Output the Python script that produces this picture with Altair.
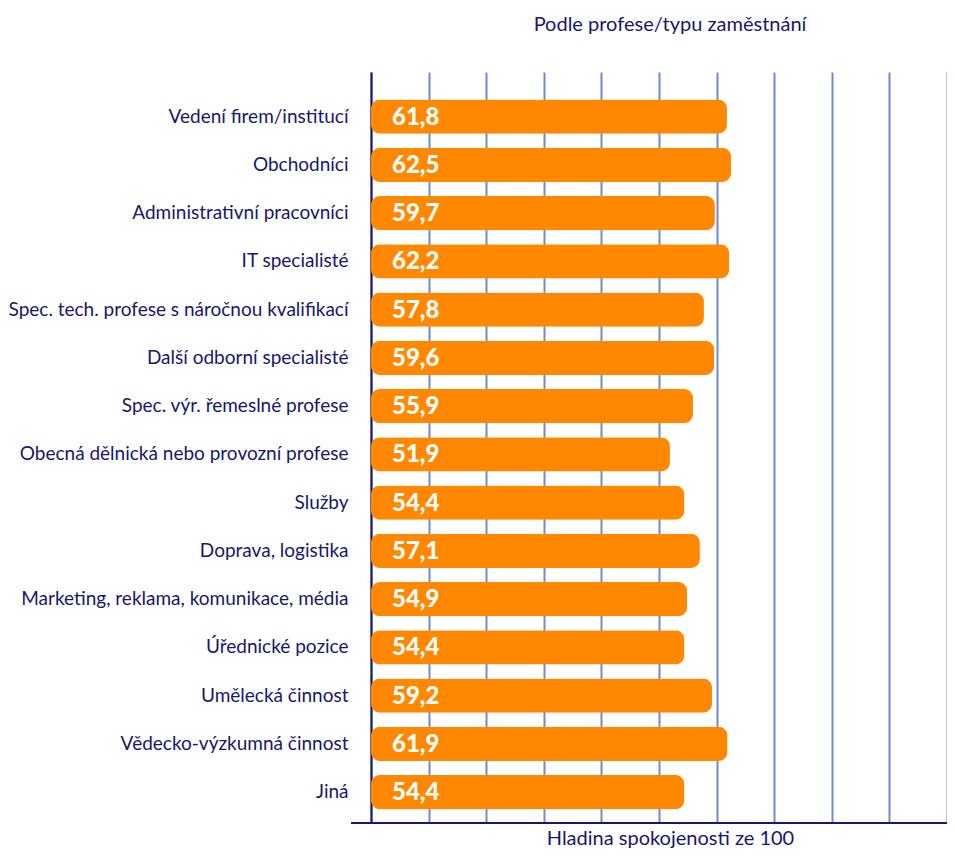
import altair as alt
import pandas as pd

categories = [
    "Vedení firem/institucí",
    "Obchodníci",
    "Administrativní pracovníci",
    "IT specialisté",
    "Spec. tech. profese s náročnou kvalifikací",
    "Další odborní specialisté",
    "Spec. výr. řemeslné profese",
    "Obecná dělnická nebo provozní profese",
    "Služby",
    "Doprava, logistika",
    "Marketing, reklama, komunikace, média",
    "Úřednické pozice",
    "Umělecká činnost",
    "Vědecko-výzkumná činnost",
    "Jiná",
]
values = [61.8, 62.5, 59.7, 62.2, 57.8, 59.6, 55.9, 51.9, 54.4, 57.1, 54.9, 54.4, 59.2, 61.9, 54.4]

NAVY = "#17176b"
ORANGE = "#FF8800"
GRID = "#6d8ccf"
FONT = "Lato"

df = pd.DataFrame({"cat": categories, "value": values})

y_enc = alt.Y(
    "cat:N",
    sort=categories,
    title=None,
    scale=alt.Scale(paddingInner=0.29, paddingOuter=0.427, align=0.667),
    axis=alt.Axis(
        domain=True, domainColor=NAVY, domainWidth=2, ticks=False,
        labelFont=FONT, labelFontSize=19, labelColor=NAVY, labelPadding=23,
        labelLimit=400, grid=False,
    ),
)

x_enc = alt.X(
    "value:Q",
    scale=alt.Scale(domain=[0, 100]),
    title="Hladina spokojenosti ze 100",
    axis=alt.Axis(
        values=[0, 10, 20, 30, 40, 50, 60, 70, 80, 90, 100],
        labels=False, ticks=False, domain=False,
        grid=True, gridColor=GRID, gridWidth=2, gridOpacity=1,
        titleFont=FONT, titleFontSize=20, titleFontWeight="normal",
        titleColor=NAVY, titlePadding=5, titleX=299,
    ),
)

base = alt.Chart(df)

bars = base.mark_bar(cornerRadius=9, color=ORANGE).encode(y=y_enc, x=x_enc)

labels = base.transform_calculate(
    label="replace(format(datum.value, '.1f'), '.', ',')"
).mark_text(
    align="left", baseline="middle", dx=21, dy=1, color="white",
    font=FONT, fontSize=24, fontWeight=900,
).encode(y=alt.Y("cat:N", sort=categories), x=alt.datum(0), text="label:N")

bottom_rule = alt.Chart(pd.DataFrame({"a": [0]})).mark_rule(
    color=NAVY, strokeWidth=2
).encode(x=alt.value(-20), x2=alt.value(590), y=alt.value(751))

chart = alt.layer(bars, labels, bottom_rule).properties(
    width=576,
    height=751,
    autosize=alt.AutoSizeParams(type="none"),
    padding={"left": 363, "top": 64, "right": 0, "bottom": 31},
    title=alt.TitleParams(
        "Podle profese/typu zaměstnání", font=FONT, fontSize=20,
        fontWeight="normal", color=NAVY, anchor="middle", dx=11, offset=37,
    ),
).configure_view(stroke=None)

chart.save("out.html", embed_options={"renderer": "svg", "actions": False})
